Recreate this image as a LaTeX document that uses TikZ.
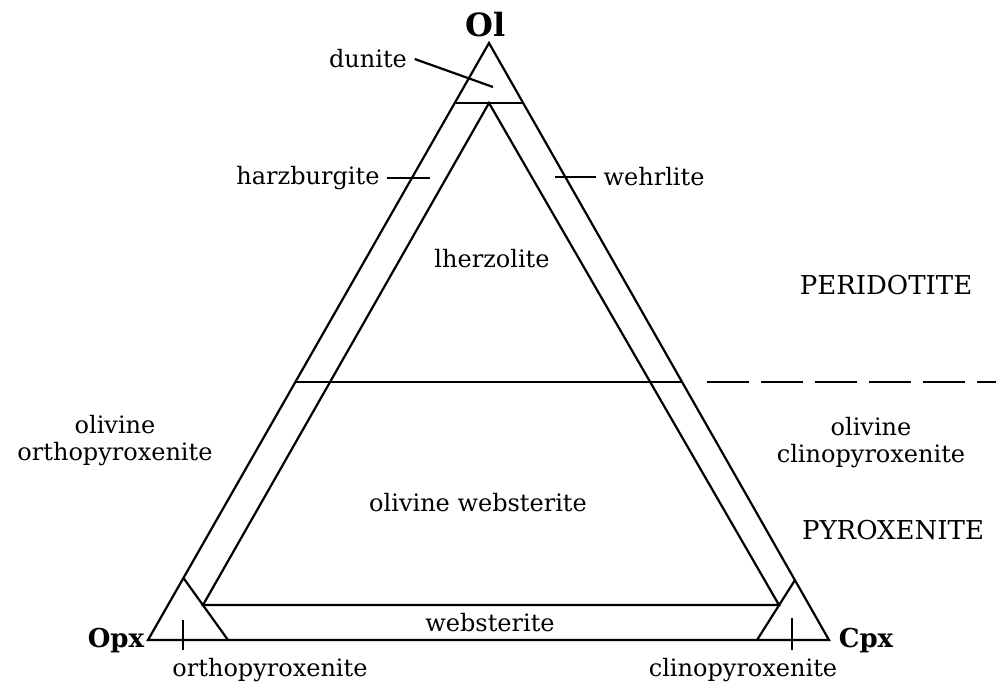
\documentclass[tikz,border=0pt]{standalone}
\usepackage{fontspec}
\setmainfont{DejaVu Serif}
\usepackage{tikz}

\begin{document}
\begin{tikzpicture}[x=0.5pt, y=-0.5pt, line width=1.1pt,
    rock/.style={font=\fontsize{12}{13.5}\selectfont, align=center},
    group/.style={font=\fontsize{13}{15}\selectfont},
    apex/.style={font=\fontsize{13}{15}\selectfont\bfseries, inner sep=1pt}]
    \useasboundingbox (0,0) rectangle (996,685);

    \coordinate (ol)  at (489,43);
    \coordinate (opx) at (148,640);
    \coordinate (cpx) at (829,640);
    \coordinate (du1) at (455.5,103);
    \coordinate (du2) at (523,103);
    \coordinate (in)  at (489,103);
    \coordinate (inl) at (203,605);
    \coordinate (inr) at (779,605);
    \coordinate (mid1) at (295,382);
    \coordinate (mid2) at (682,382);
    \coordinate (dash1) at (707,382);
    \coordinate (dash2) at (996,382);
    \coordinate (oc1) at (183.5,578);
    \coordinate (oc2) at (228,640);
    \coordinate (cc1) at (795,580);
    \coordinate (cc2) at (757,640);

    \draw (opx) -- (ol) -- (cpx) -- cycle;
    \draw (du1) -- (du2);
    \draw (in) -- (inl) -- (inr) -- cycle;
    \draw (mid1) -- (mid2);
    \draw[dash pattern=on 21pt off 6pt] (dash1) -- (dash2);
    \draw (oc1) -- (oc2);
    \draw (cc1) -- (cc2);

    \node[apex, font=\fontsize{16}{18}\selectfont\bfseries] (olLbl) at (486,25) {Ol};
    \node[apex] (opxLbl) at (116,641) {Opx};
    \node[apex] (cpxLbl) at (866,641) {Cpx};

    \node[rock] (dun)   at (368,59)  {dunite};
    \node[rock] (harz)  at (308,178) {harzburgite};
    \node[rock] (wehr)  at (654,177) {wehrlite};
    \node[rock] (lherz) at (492,259) {lherzolite};
    \node[rock] (olopx) at (115,441) {olivine\\orthopyroxenite};
    \node[rock] (olcpx) at (871,443) {olivine\\clinopyroxenite};
    \node[rock] (olweb) at (478,503) {olivine websterite};
    \node[rock] (web)   at (490,623) {websterite};
    \node[rock] (ortho) at (270,670) {orthopyroxenite};
    \node[rock] (clino) at (743,670) {clinopyroxenite};
    \node[group] (perid) at (886,285) {PERIDOTITE};
    \node[group] (pyrox) at (893,530) {PYROXENITE};

    \coordinate (dunpt)  at (493,87);
    \coordinate (harzpt) at (430,178);
    \coordinate (wehrpt) at (555,177);
    \coordinate (orthopt) at (183,620);
    \coordinate (clinopt) at (792,618);

    \draw (dun.east) -- (dunpt);
    \draw (harz.east) -- (harzpt);
    \draw (wehr.west) -- (wehrpt);
    \draw (orthopt) -- (orthopt |- ortho.north);
    \draw (clinopt) -- (clinopt |- clino.north);
\end{tikzpicture}
\end{document}
